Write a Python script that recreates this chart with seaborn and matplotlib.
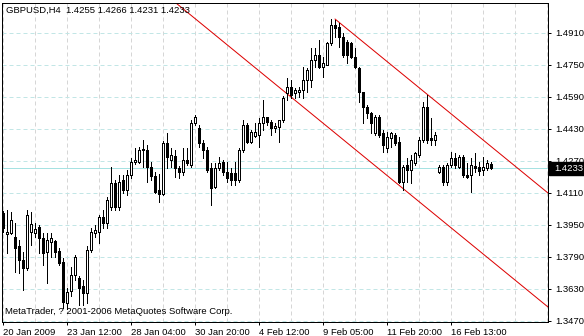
import numpy as np
import pandas as pd
import matplotlib
matplotlib.use("Agg")
import matplotlib.pyplot as plt
import seaborn as sns
from matplotlib.patches import Rectangle
from matplotlib.transforms import blended_transform_factory

# ---------------- data ----------------
symbol_text = "GBPUSD,H4  1.4255 1.4266 1.4231 1.4233"
copyright_text = "MetaTrader, ? 2001-2006 MetaQuotes Software Corp."

opens = [
    1.4010, 1.3905, 1.3910, 1.3890, 1.3845, 1.3775, 1.3735, 1.3915, 1.3910, 1.3940,
    1.3885, 1.3815, 1.3865, 1.3870, 1.3820, 1.3765, 1.3560, 1.3620, 1.3700, 1.3685,
    1.3645, 1.3610, 1.3825, 1.3910, 1.3915, 1.3990, 1.3960, 1.4040, 1.4160, 1.4040,
    1.4175, 1.4125, 1.4200, 1.4265, 1.4265, 1.4325, 1.4325, 1.4240, 1.4195, 1.4125,
    1.4105, 1.4360, 1.4275, 1.4295, 1.4235, 1.4215, 1.4275, 1.4250, 1.4460, 1.4435,
    1.4360, 1.4325, 1.4235, 1.4140, 1.4235, 1.4265, 1.4215, 1.4210, 1.4210, 1.4175,
    1.4325, 1.4450, 1.4365, 1.4395, 1.4400, 1.4460, 1.4490, 1.4465, 1.4435, 1.4440,
    1.4475, 1.4610, 1.4640, 1.4610, 1.4615, 1.4625, 1.4675, 1.4675, 1.4775, 1.4800,
    1.4740, 1.4750, 1.4860, 1.4950, 1.4940, 1.4890, 1.4865, 1.4860, 1.4790, 1.4735,
    1.4615, 1.4540, 1.4510, 1.4410, 1.4490, 1.4410, 1.4335, 1.4385, 1.4400, 1.4365,
    1.4165, 1.4250, 1.4225, 1.4260, 1.4300, 1.4375, 1.4540, 1.4385, 1.4375, 1.4215,
    1.4240, 1.4165, 1.4250, 1.4285, 1.4240, 1.4290, 1.4200, 1.4200, 1.4245, 1.4240,
    1.4225, 1.4235, 1.4255]
highs = [
    1.4020, 1.4025, 1.4015, 1.3960, 1.3875, 1.3815, 1.4025, 1.4015, 1.3960, 1.3950,
    1.3910, 1.3910, 1.3910, 1.3875, 1.3835, 1.3785, 1.3635, 1.3740, 1.3800, 1.3695,
    1.3675, 1.3845, 1.3935, 1.3950, 1.4000, 1.4025, 1.4090, 1.4240, 1.4175, 1.4200,
    1.4200, 1.4225, 1.4285, 1.4335, 1.4340, 1.4375, 1.4350, 1.4265, 1.4215, 1.4205,
    1.4370, 1.4410, 1.4335, 1.4325, 1.4245, 1.4335, 1.4335, 1.4475, 1.4500, 1.4450,
    1.4375, 1.4340, 1.4260, 1.4260, 1.4290, 1.4275, 1.4265, 1.4235, 1.4265, 1.4335,
    1.4475, 1.4460, 1.4425, 1.4460, 1.4485, 1.4575, 1.4490, 1.4475, 1.4460, 1.4475,
    1.4595, 1.4685, 1.4675, 1.4635, 1.4640, 1.4740, 1.4735, 1.4835, 1.4835, 1.4875,
    1.4790, 1.4865, 1.4980, 1.4975, 1.4960, 1.4910, 1.4875, 1.4865, 1.4835, 1.4740,
    1.4615, 1.4550, 1.4515, 1.4500, 1.4500, 1.4425, 1.4415, 1.4415, 1.4410, 1.4390,
    1.4250, 1.4285, 1.4300, 1.4315, 1.4390, 1.4565, 1.4600, 1.4485, 1.4415, 1.4250,
    1.4250, 1.4260, 1.4315, 1.4310, 1.4300, 1.4300, 1.4260, 1.4285, 1.4310, 1.4265,
    1.4290, 1.4275, 1.4266]
lows = [
    1.3915, 1.3810, 1.3905, 1.3715, 1.3710, 1.3625, 1.3725, 1.3850, 1.3890, 1.3810,
    1.3750, 1.3660, 1.3790, 1.3790, 1.3750, 1.3535, 1.3530, 1.3595, 1.3675, 1.3550,
    1.3550, 1.3560, 1.3815, 1.3890, 1.3860, 1.3935, 1.3935, 1.4025, 1.4025, 1.4025,
    1.4110, 1.4100, 1.4185, 1.4255, 1.4260, 1.4240, 1.4165, 1.4175, 1.4110, 1.4065,
    1.4100, 1.4235, 1.4240, 1.4190, 1.4185, 1.4200, 1.4250, 1.4240, 1.4450, 1.4340,
    1.4285, 1.4215, 1.4050, 1.4135, 1.4225, 1.4200, 1.4165, 1.4150, 1.4150, 1.4165,
    1.4315, 1.4360, 1.4360, 1.4390, 1.4340, 1.4425, 1.4450, 1.4400, 1.4415, 1.4365,
    1.4465, 1.4575, 1.4585, 1.4585, 1.4590, 1.4585, 1.4615, 1.4640, 1.4740, 1.4735,
    1.4690, 1.4750, 1.4850, 1.4890, 1.4840, 1.4790, 1.4760, 1.4785, 1.4735, 1.4565,
    1.4460, 1.4485, 1.4410, 1.4400, 1.4390, 1.4315, 1.4315, 1.4340, 1.4350, 1.4160,
    1.4125, 1.4165, 1.4160, 1.4250, 1.4290, 1.4365, 1.4360, 1.4350, 1.4350, 1.4210,
    1.4150, 1.4150, 1.4240, 1.4235, 1.4235, 1.4190, 1.4185, 1.4115, 1.4215, 1.4200,
    1.4200, 1.4225, 1.4231]
closes = [
    1.3935, 1.3915, 1.3975, 1.3835, 1.3775, 1.3735, 1.4000, 1.3955, 1.3930, 1.3885,
    1.3810, 1.3875, 1.3885, 1.3815, 1.3760, 1.3565, 1.3615, 1.3700, 1.3790, 1.3635,
    1.3610, 1.3825, 1.3915, 1.3925, 1.3990, 1.3960, 1.4075, 1.4160, 1.4040, 1.4165,
    1.4125, 1.4200, 1.4265, 1.4275, 1.4325, 1.4330, 1.4240, 1.4195, 1.4115, 1.4105,
    1.4360, 1.4290, 1.4300, 1.4235, 1.4215, 1.4275, 1.4260, 1.4460, 1.4490, 1.4360,
    1.4325, 1.4225, 1.4135, 1.4235, 1.4260, 1.4215, 1.4185, 1.4175, 1.4175, 1.4325,
    1.4450, 1.4365, 1.4415, 1.4415, 1.4460, 1.4490, 1.4465, 1.4435, 1.4445, 1.4475,
    1.4585, 1.4640, 1.4600, 1.4625, 1.4625, 1.4675, 1.4725, 1.4775, 1.4800, 1.4740,
    1.4760, 1.4860, 1.4950, 1.4935, 1.4890, 1.4800, 1.4800, 1.4790, 1.4740, 1.4615,
    1.4540, 1.4510, 1.4460, 1.4490, 1.4400, 1.4350, 1.4390, 1.4410, 1.4360, 1.4165,
    1.4240, 1.4225, 1.4275, 1.4310, 1.4375, 1.4540, 1.4375, 1.4375, 1.4400, 1.4240,
    1.4165, 1.4250, 1.4285, 1.4250, 1.4290, 1.4200, 1.4190, 1.4250, 1.4235, 1.4220,
    1.4240, 1.4260, 1.4233]

x_tick_bars = [0, 16, 32, 48, 64, 80, 96, 112]
x_tick_labels = ["20 Jan 2009", "23 Jan 12:00", "28 Jan 04:00", "30 Jan 20:00",
                 "4 Feb 12:00", "9 Feb 05:00", "11 Feb 20:00", "16 Feb 13:00"]
y_ticks = [1.3470, 1.3630, 1.3790, 1.3950, 1.4110, 1.4270, 1.4430, 1.4590, 1.4750, 1.4910]
bid_price = 1.4233

# channel trend lines (bar index, price)
upper_line_bars = [83, 136.25]
upper_line_prices = [1.4980, 1.4110]
lower_line_bars = [43, 136.25]
lower_line_prices = [1.5064, 1.3540]

# ---------------- figure ----------------
sns.set_theme(style="white")
plt.rcParams['font.family'] = ['Liberation Sans', 'DejaVu Sans']
FS = 6.8
PX = 0.72  # one pixel in points at dpi 100

df = pd.DataFrame({"bar": np.arange(len(opens)), "open": opens, "high": highs,
                   "low": lows, "close": closes})

fig = plt.figure(figsize=(5.84, 3.36), dpi=100)
fig.patch.set_facecolor("white")
ax = fig.add_axes([2 / 584, 14 / 336, 546 / 584, 319 / 336])
ax.set_facecolor("white")

ax.set_xlim(-0.25, 136.25)
ax.set_ylim(1.3465, 1.5060)

# grid
ax.set_yticks(y_ticks)
ax.set_yticklabels([f"{v:.4f}" for v in y_ticks])
ax.set_xticks(x_tick_bars)
ax.set_xticklabels(x_tick_labels, ha="left")
ax.set_xticks(np.arange(8, 137, 8), minor=True)
ax.grid(axis="y", which="major", color="#c2e6e6", linestyle=(0, (4, 3)), linewidth=PX)
ax.grid(axis="x", which="both", color="#d6d6d6", linestyle=(0, (4, 3)), linewidth=PX)
ax.set_axisbelow(True)

ax.yaxis.tick_right()
ax.tick_params(axis="y", which="major", direction="out", length=3 * PX, width=PX,
               pad=3, labelsize=FS, colors="black", right=True, left=False)
ax.tick_params(axis="x", which="major", direction="out", length=3 * PX, width=PX,
               pad=2, labelsize=FS, colors="black", bottom=True)
ax.tick_params(axis="x", which="minor", length=0)
for lab in ax.get_xticklabels():
    lab.set_horizontalalignment("left")

for s in ax.spines.values():
    s.set_color("black")
    s.set_linewidth(PX)
    s.set_visible(True)

# bid line
ax.axhline(bid_price, color="#a6e2e2", linewidth=PX, zorder=1.5)

# channel lines
line_df = pd.DataFrame({
    "bar": upper_line_bars + lower_line_bars,
    "price": upper_line_prices + lower_line_prices,
    "line": ["upper", "upper", "lower", "lower"]})
sns.lineplot(data=line_df, x="bar", y="price", units="line", estimator=None,
             color="#dd0000", linewidth=PX, ax=ax, zorder=2, legend=False)

# candles
lo = np.minimum(df["low"], np.minimum(df["open"], df["close"]))
hi = np.maximum(df["high"], np.maximum(df["open"], df["close"]))
ax.vlines(df["bar"], lo, hi, colors="black", linewidth=PX, zorder=3, antialiased=False)
body_bottom = np.minimum(df["open"], df["close"])
body_height = np.abs(df["close"] - df["open"])
face = np.where(df["close"] < df["open"], "black", "white")
ax.bar(df["bar"], body_height, bottom=body_bottom, width=0.5, color=face,
       edgecolor="black", linewidth=PX, zorder=4, antialiased=False)

ax.set_xlabel("")
ax.set_ylabel("")

# texts
ax.text(4 / 546, 1 - 3 / 319, symbol_text, transform=ax.transAxes, ha="left", va="top",
        fontsize=FS, color="black", zorder=6)
ax.text(3 / 546, 6 / 319, copyright_text, transform=ax.transAxes, ha="left", va="bottom",
        fontsize=FS, color="black", zorder=6)

# bid price label box on the price scale (covers part of the 1.4270 label, as in the original)
tr = blended_transform_factory(ax.transAxes, ax.transData)
ax.add_patch(Rectangle((1 + 1 / 546, bid_price - 0.0033), 36 / 546, 0.0066, transform=tr,
                       facecolor="black", edgecolor="black", clip_on=False, zorder=10))
ax.text(1 + 6 / 546, bid_price, f"{bid_price:.4f}", transform=tr, ha="left", va="center",
        fontsize=FS, color="white", zorder=11, clip_on=False)

fig.savefig("out.png", dpi=100, facecolor="white")
